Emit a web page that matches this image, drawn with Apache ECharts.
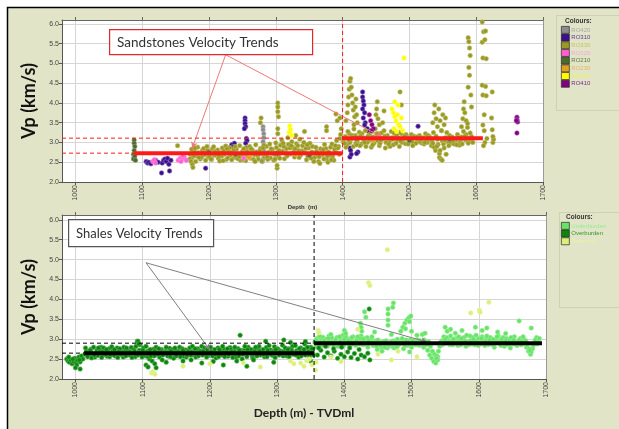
<!DOCTYPE html>
<html>
<head>
<meta charset="utf-8">
<script src="https://cdn.jsdelivr.net/npm/echarts@6/dist/echarts.min.js"></script>
<style>
  html, body { margin: 0; padding: 0; background: #ffffff; }
  #chart { width: 619px; height: 429px; }
</style>
</head>
<body>
<div id="chart"></div>
<script>
// ---- axis ticks ----
const depthTicks = [1000, 1100, 1200, 1300, 1400, 1500, 1600, 1700];
const depthMin = 980, depthMax = 1700;

// ---- sandstone log groups (depth m, Vp km/s) ----
const sandNames = ['RO420', 'RO310', 'RO330', 'RO320', 'RO210', 'RO230', 'RO110', 'RO410'];
const sandColors = ['#8c8c8c', '#3d0f8f', '#9a9a22', '#ff5fd0', '#4b6b2b', '#e0a020', '#ffff00', '#800080'];
const sandLabelColors = ['#a8a8a8', '#5a3aa0', '#c4c466', '#f3a6dc', '#5a7a3a', '#e2b664', '#eef060', '#7a2a8a'];

const ro420 = [[1281,3.40],[1281,3.32],[1282,3.22],[1282,3.12],[1281,3.02],[1283,2.92],[1282,2.80],[1281,2.70],[1282,2.60],[1280,2.52]];
const ro310 = [[1106,2.52],[1108,2.48],[1110,2.50],[1113,2.46],[1120,2.55],[1124,2.50],[1129,2.23],[1130,2.48],[1132,2.55],[1134,2.58],
  [1136,2.52],[1138,2.60],[1141,2.28],[1140,2.45],[1143,2.55],[1195,2.35],[1234,2.94],[1236,2.90],[1238,2.98],[1254,3.62],
  [1254,3.55],[1254,3.48],[1255,3.40],[1253,3.35],[1256,3.10],[1257,3.05],[1255,2.98],[1411,2.86],[1412,2.80],[1411,2.63],
  [1413,2.70],[1423,2.76],[1421,2.72],[1430,4.28],[1430,4.15],[1431,4.05],[1432,3.95],[1430,3.85],[1433,3.75],[1431,3.62],
  [1434,3.50],[1433,3.44],[1437,3.35],[1439,3.28],[1441,3.15],[1513,3.41]];
const ro330 = [
  // shallow band
  [1172,2.70],[1175,2.62],[1178,2.78],[1181,2.66],[1184,2.74],[1187,2.58],[1190,2.80],[1193,2.69],[1196,2.76],[1199,2.63],
  [1202,2.72],[1205,2.84],[1208,2.67],[1211,2.78],[1214,2.60],[1217,2.74],[1220,2.86],[1223,2.70],[1226,2.57],[1229,2.79],
  [1232,2.68],[1235,2.75],[1238,2.62],[1241,2.83],[1244,2.71],[1247,2.55],[1250,2.77],[1253,2.66],[1256,2.88],[1259,2.73],
  [1262,2.60],[1265,2.81],[1268,2.69],[1271,2.76],[1274,2.58],[1277,2.85],[1280,2.72],[1283,2.64],[1286,2.90],[1289,2.75],
  [1292,2.61],[1295,2.82],[1298,2.70],[1301,2.87],[1304,2.66],[1307,2.93],[1310,2.78],[1313,2.59],[1316,2.84],[1319,2.95],
  [1322,2.71],[1325,2.88],[1328,2.63],[1331,2.97],[1334,2.80],[1337,2.68],[1340,2.92],[1343,2.74],[1346,2.56],[1349,2.86],
  [1352,2.70],[1355,2.90],[1358,2.62],[1361,2.78],[1364,2.52],[1367,2.84],[1370,2.69],[1373,2.95],[1376,2.58],[1379,2.76],
  [1382,2.88],[1385,2.64],[1388,2.82],[1391,3.05],[1394,2.90],[1397,3.20],
  [1171,2.58],[1174,2.83],[1177,2.67],[1180,2.52],[1183,2.88],[1186,2.71],[1189,2.63],[1192,2.85],[1195,2.55],[1198,2.80],
  [1201,2.64],[1204,2.57],[1207,2.89],[1210,2.69],[1213,2.81],[1216,2.53],[1219,2.66],[1222,2.79],[1225,2.91],[1228,2.61],
  [1231,2.87],[1234,2.56],[1237,2.82],[1240,2.65],[1243,2.59],[1246,2.92],[1249,2.68],[1252,2.84],[1255,2.54],[1258,2.65],
  [1261,2.90],[1264,2.72],[1267,2.57],[1270,2.94],[1273,2.67],[1276,2.79],[1279,2.53],[1282,2.93],[1285,2.68],[1288,2.57],
  [1291,2.96],[1294,2.73],[1297,2.55],[1300,2.99],[1303,2.76],[1306,2.60],[1309,3.06],[1312,2.90],[1315,2.72],[1318,3.12],
  [1321,2.86],[1324,3.02],[1327,2.77],[1330,3.18],[1333,2.92],[1336,3.08],[1339,2.79],[1342,3.00],[1345,2.85],[1348,2.65],
  [1351,2.98],[1354,2.76],[1357,2.52],[1360,2.88],[1363,2.66],[1366,2.47],[1369,2.73],[1372,2.58],[1375,2.85],[1378,2.50],
  [1381,2.68],[1384,2.96],[1387,2.55],[1390,2.74],[1393,2.86],[1396,3.10],[1398,3.35],
  [1173,2.52],[1179,2.86],[1185,2.62],[1191,2.74],[1197,2.90],[1203,2.58],[1209,2.76],[1215,2.66],[1221,2.54],[1227,2.84],
  [1233,2.74],[1239,2.90],[1245,2.64],[1251,2.56],[1257,2.78],[1263,2.84],[1269,2.52],[1275,2.70],[1281,2.86],[1287,2.64],
  [1293,2.84],[1299,2.58],[1305,2.80],[1311,2.98],[1317,2.66],[1323,2.92],[1329,2.84],[1335,2.62],[1341,2.76],[1347,2.94],
  [1353,2.60],[1359,2.72],[1365,2.64],[1371,2.82],[1377,2.66],[1383,2.56],[1389,2.92],[1395,2.70],
  [1303,4.00],[1303,3.90],[1303,3.78],[1304,3.65],[1303,3.35],[1303,3.22],[1302,2.35],[1302,2.42],[1277,3.50],[1278,3.62],
  [1390,3.72],[1392,3.55],[1396,3.62],[1175,2.44],[1176,2.37],[1153,2.92],[1376,3.40],[1376,3.30],[1343,3.28],
  // deep band
  [1401,3.02],[1404,3.15],[1407,2.95],[1410,3.22],[1413,3.08],[1416,2.90],[1419,3.18],[1422,3.04],[1425,3.26],[1428,2.96],
  [1431,3.12],[1434,3.30],[1437,3.00],[1440,3.20],[1443,2.88],[1446,3.14],[1449,3.35],[1452,3.05],[1455,2.92],[1458,3.24],
  [1461,3.10],[1464,2.86],[1467,3.18],[1470,3.02],[1473,3.28],[1476,2.94],[1479,3.16],[1482,3.06],[1485,2.90],[1488,3.22],
  [1491,3.08],[1494,2.97],[1497,3.14],[1500,3.04],[1503,3.20],[1506,2.95],[1509,3.12],[1512,3.06],[1515,3.18],[1518,2.99],
  [1521,3.10],[1524,3.22],[1527,3.00],[1530,3.15],[1533,2.92],[1536,3.25],[1539,2.80],[1542,3.08],[1545,2.72],[1548,3.30],
  [1551,2.96],[1554,3.12],[1557,3.02],[1560,3.18],[1563,2.98],[1566,3.10],[1569,3.04],[1572,3.20],[1575,2.93],[1578,3.14],
  [1581,3.28],[1584,3.06],[1587,3.38],[1590,3.02],[1593,3.15],
  [1402,3.10],[1405,2.88],[1408,3.28],[1411,3.00],[1414,3.18],[1417,3.34],[1420,2.98],[1423,3.12],[1426,2.92],[1429,3.22],
  [1432,3.04],[1435,2.90],[1438,3.16],[1441,3.06],[1444,3.28],[1447,2.98],[1450,3.12],[1453,3.22],[1456,2.98],[1459,3.08],
  [1462,3.30],[1465,3.00],[1468,3.10],[1471,2.90],[1474,3.12],[1477,3.24],[1480,2.98],[1483,3.12],[1486,3.26],[1489,3.00],
  [1492,3.12],[1495,3.20],[1498,2.96],[1501,3.10],[1504,3.02],[1507,3.16],[1510,2.98],[1513,3.08],[1516,3.02],[1519,3.12],
  [1522,2.96],[1525,3.06],[1528,3.18],[1531,3.08],[1534,3.02],[1537,2.88],[1540,3.16],[1543,2.95],[1546,2.80],[1549,3.05],
  [1552,2.86],[1555,2.70],[1558,3.10],[1561,3.00],[1564,3.14],[1567,2.96],[1570,3.08],[1573,3.12],[1576,3.02],[1579,2.96],
  [1582,3.10],[1585,3.20],[1588,2.98],[1591,3.24],[1594,3.08],
  [1403,2.98],[1409,3.06],[1415,3.12],[1421,2.94],[1427,3.16],[1433,3.00],[1439,3.10],[1445,2.94],[1451,3.22],[1457,3.06],
  [1463,3.16],[1469,2.96],[1475,3.08],[1481,3.20],[1487,3.04],[1493,3.16],[1499,3.06],[1505,2.92],[1511,3.14],[1517,3.08],
  [1523,3.00],[1529,3.12],[1535,2.98],[1541,2.90],[1553,3.06],[1559,2.92],[1565,3.04],[1571,2.94],[1577,3.08],[1583,3.16],
  [1589,3.10],[1595,3.00],
  // excursions
  [1405,3.55],[1407,3.75],[1408,3.95],[1409,4.15],[1410,4.35],[1411,4.55],[1412,4.62],[1413,4.40],[1414,4.20],[1415,4.00],
  [1416,3.82],[1418,3.65],[1419,3.90],[1420,4.10],[1421,3.70],[1417,3.45],[1422,3.50],
  [1450,3.70],[1451,3.85],[1452,4.03],[1453,3.60],[1455,3.45],[1460,3.50],[1462,3.80],[1486,4.28],[1488,3.95],
  [1535,3.50],[1537,3.75],[1538,3.95],[1540,3.60],[1542,3.40],[1544,3.85],[1546,3.55],[1548,3.30],[1550,3.70],[1552,3.45],
  [1554,3.62],[1556,3.25],[1545,2.62],[1547,2.58],[1549,2.55],
  [1578,3.40],[1580,3.60],[1581,3.85],[1582,4.03],[1583,3.75],[1585,3.55],[1587,3.48],
  [1588,5.65],[1589,5.55],[1590,5.39],[1591,5.20],[1589,4.90],[1590,4.70],[1588,4.40],[1592,4.20],[1593,3.90],
  [1609,6.05],[1611,5.80],[1614,5.82],[1609,5.54],[1613,5.60],[1610,5.14],[1615,5.12],[1609,4.45],[1614,4.42],[1610,4.20],
  [1615,4.18],[1612,3.70],[1610,3.44],[1612,3.30],[1613,3.00],[1611,2.92],[1616,3.10],
  [1624,4.28],[1623,3.62],[1624,3.32],[1625,3.00],[1626,3.08],[1625,3.15]
];
const ro320 = [[1116,2.52],[1118,2.56],[1120,2.48],[1154,2.55],[1157,2.60],[1160,2.58],[1163,2.62],[1158,2.52],[1166,2.55],[1161,2.66],[1252,2.60]];
const ro210 = [[1088,3.06],[1088,2.98],[1089,2.90],[1088,2.80],[1087,2.70],[1088,2.62],[1087,2.58],[1089,2.66],[1090,2.55],
  [1200,2.75],[1240,2.70],[1300,2.72],[1350,2.68],[1420,3.10],[1500,3.05],[1560,3.08]];
const ro230 = [[1260,2.62],[1330,2.70],[1445,3.05]];
const ro110 = [[1321,3.42],[1322,3.32],[1320,3.25],[1324,3.18],[1474,3.85],[1476,3.75],[1478,3.65],[1480,3.55],[1482,3.70],
  [1484,3.45],[1477,3.35],[1481,3.28],[1486,3.40],[1488,3.62],[1490,3.30],[1492,5.14],[1483,3.95],[1478,4.03]];
const ro410 = [[1661,3.64],[1661,3.58],[1662,3.52],[1660,3.55],[1661,3.24],[1440,3.70],[1442,3.55],[1444,3.45],[1446,3.35],[1443,3.30]];
const sandData = [ro420, ro310, ro330, ro320, ro210, ro230, ro110, ro410];

// sandstone trend: [fromDepth, toDepth, Vp]
const sandTrend = [[1088, 1400, 2.73], [1400, 1610, 3.11]];
const sandBreak = 1400;
const sandPointer = { from: [1225, 5.22], to: [[1175, 2.86], [1459, 3.14]] };

// ---- shale log groups ----
const shaleNames = ['Underburden', 'Overburden', 'Reservoir'];
const shaleColors = ['#66e466', '#0a870a', '#dcef78'];
const shaleLabelColors = ['#90ee90', '#2a9a2a', '#e6f3a8'];

const overburden = [
  [987,2.50],[989,2.45],[991,2.42],[993,2.48],[995,2.38],[997,2.44],[999,2.52],[1001,2.40],[1003,2.47],[1005,2.55],
  [1007,2.43],[1009,2.58],[1011,2.50],[990,2.55],[996,2.50],[1002,2.35],[1006,2.48],[1000,2.28],[1007,2.25],
  [1014,2.62],[1017,2.70],[1020,2.58],[1023,2.75],[1026,2.64],[1029,2.55],[1032,2.72],[1035,2.66],[1038,2.80],[1041,2.60],
  [1044,2.69],[1047,2.57],[1050,2.76],[1053,2.65],[1056,2.71],[1059,2.58],[1062,2.78],[1065,2.63],[1068,2.70],[1071,2.55],
  [1074,2.74],[1077,2.66],[1080,2.60],[1083,2.79],[1086,2.68],[1089,2.56],[1092,2.95],[1095,2.72],[1098,2.62],[1101,2.78],
  [1104,2.58],[1107,2.70],[1110,2.50],[1113,2.66],[1116,2.75],[1119,2.60],[1122,2.68],[1125,2.55],[1128,2.74],[1131,2.63],
  [1134,2.70],[1137,2.58],[1140,2.77],[1143,2.65],[1146,2.52],[1149,2.72],[1152,2.62],[1155,2.80],[1158,2.67],[1161,2.57],
  [1164,2.73],[1167,2.64],[1170,2.78],[1173,2.60],[1176,2.70],[1179,2.55],[1182,2.76],[1185,2.66],[1188,2.82],[1191,2.62],
  [1194,2.71],[1197,2.58],[1200,2.75],[1203,2.64],[1206,2.70],[1209,2.53],[1212,2.78],[1215,2.66],[1218,2.60],[1221,2.74],
  [1224,2.68],[1227,2.57],[1230,2.79],[1233,2.63],[1236,2.70],[1239,2.55],[1242,2.76],[1245,2.66],[1248,2.50],[1251,2.72],
  [1254,2.62],[1257,2.80],[1260,2.68],[1263,2.58],[1266,2.74],[1269,2.64],[1272,2.77],[1275,2.60],[1278,2.70],[1281,2.56],
  [1284,2.79],[1287,2.66],[1290,2.73],[1293,2.59],[1296,2.81],[1299,2.67],[1302,2.74],[1305,2.62],[1308,2.85],[1311,2.70],
  [1314,2.58],[1317,2.76],[1320,2.66],[1323,2.82],[1326,2.63],[1329,2.71],[1332,2.55],[1335,2.78],[1338,2.68],[1341,2.88],
  [1344,2.62],[1347,2.74],[1350,2.80],[1353,2.66],
  [1015,2.78],[1018,2.56],[1021,2.66],[1024,2.53],[1027,2.80],[1030,2.62],[1033,2.59],[1036,2.74],[1039,2.54],[1042,2.78],
  [1045,2.62],[1048,2.70],[1051,2.56],[1054,2.81],[1057,2.60],[1060,2.68],[1063,2.54],[1066,2.76],[1069,2.61],[1072,2.80],
  [1075,2.58],[1078,2.72],[1081,2.68],[1084,2.54],[1087,2.74],[1090,2.82],[1093,2.60],[1096,2.86],[1099,2.55],[1102,2.68],
  [1105,2.82],[1108,2.56],[1111,2.74],[1114,2.45],[1117,2.58],[1120,2.80],[1123,2.62],[1126,2.72],[1129,2.48],[1132,2.66],
  [1135,2.80],[1138,2.68],[1141,2.56],[1144,2.74],[1147,2.64],[1150,2.58],[1153,2.70],[1156,2.56],[1159,2.76],[1162,2.68],
  [1165,2.55],[1168,2.70],[1171,2.60],[1174,2.82],[1177,2.64],[1180,2.74],[1183,2.58],[1186,2.70],[1189,2.60],[1192,2.78],
  [1195,2.55],[1198,2.66],[1201,2.80],[1204,2.58],[1207,2.74],[1210,2.64],[1213,2.56],[1216,2.72],[1219,2.82],[1222,2.56],
  [1225,2.70],[1228,2.62],[1231,2.74],[1234,2.54],[1237,2.80],[1240,2.64],[1243,2.58],[1246,2.72],[1249,2.62],[1252,2.82],
  [1255,2.56],[1258,2.66],[1261,2.74],[1264,2.52],[1267,2.70],[1270,2.58],[1273,2.82],[1276,2.68],[1279,2.74],[1282,2.64],
  [1285,2.56],[1288,2.84],[1291,2.62],[1294,2.70],[1297,2.54],[1300,2.76],[1303,2.60],[1306,2.70],[1309,2.58],[1312,2.78],
  [1315,2.68],[1318,2.56],[1321,2.74],[1324,2.62],[1327,2.84],[1330,2.66],[1333,2.76],[1336,2.58],[1339,2.72],[1342,2.60],
  [1345,2.80],[1348,2.56],[1351,2.70],[1354,2.60],
  [1016,2.68],[1022,2.72],[1028,2.60],[1034,2.78],[1040,2.68],[1046,2.74],[1052,2.62],[1058,2.74],[1064,2.68],[1070,2.64],
  [1076,2.78],[1082,2.64],[1088,2.70],[1094,2.66],[1100,2.72],[1106,2.64],[1112,2.58],[1118,2.70],[1124,2.76],[1130,2.60],
  [1136,2.66],[1142,2.70],[1148,2.78],[1154,2.66],[1160,2.72],[1166,2.60],[1172,2.68],[1178,2.76],[1184,2.64],[1190,2.70],
  [1196,2.74],[1202,2.68],[1208,2.62],[1214,2.74],[1220,2.66],[1226,2.76],[1232,2.68],[1238,2.62],[1244,2.72],[1250,2.66],
  [1256,2.74],[1262,2.64],[1268,2.80],[1274,2.70],[1280,2.62],[1286,2.72],[1292,2.66],[1298,2.74],[1304,2.68],[1310,2.64],
  [1316,2.74],[1322,2.70],[1328,2.60],[1334,2.68],[1340,2.74],[1346,2.68],[1352,2.76],
  [1093,2.95],[1094,2.88],[1105,2.35],[1108,2.30],[1118,2.38],[1120,2.28],[1135,2.42],[1160,2.45],[1172,2.48],[1188,2.40],
  [1205,2.44],[1220,2.35],[1245,3.10],[1240,2.45],[1255,2.32],[1265,2.48],[1283,2.95],[1295,2.42],[1310,2.98],[1320,2.92],
  [1342,2.94],[1350,2.45],
  [1360,2.60],[1365,2.72],[1370,2.55],[1375,2.66],[1380,2.58],[1385,2.70],[1390,2.52],[1395,2.62],[1400,2.56],[1405,2.68],
  [1410,2.54],[1415,2.64],[1420,2.50],[1425,2.60],[1430,2.56],[1435,2.65],[1362,2.78],[1372,2.82],[1384,2.76],[1396,2.80],
  [1408,2.78],[1422,2.74],[1437,3.76],[1438,2.48]
];
const underburden = [
  [1356,2.92],[1359,3.02],[1362,2.86],[1365,2.98],[1368,3.05],[1371,2.90],[1374,2.96],[1377,3.08],[1380,2.88],[1383,3.00],
  [1386,2.94],[1389,3.04],[1392,2.86],[1395,2.98],[1398,3.10],[1401,2.92],[1404,3.02],[1407,2.88],[1410,2.96],[1413,3.06],
  [1416,2.90],[1419,3.00],[1422,2.94],[1425,3.08],[1428,2.86],[1431,2.98],[1434,3.04],[1437,2.90],[1440,3.00],[1443,2.84],
  [1446,2.96],[1449,2.74],[1452,2.90],[1455,2.80],[1458,2.94],[1461,2.86],[1464,2.78],[1467,2.92],[1470,2.82],[1473,2.96],
  [1476,2.86],[1479,3.00],[1482,2.88],[1485,2.96],[1488,2.76],[1491,2.92],[1494,2.84],[1497,2.68],[1500,2.80],[1503,2.92],
  [1506,2.86],[1509,2.98],[1512,2.84],[1515,2.94],[1518,2.80],[1521,2.90],[1524,2.72],[1527,2.60],[1530,2.52],[1533,2.44],
  [1536,2.40],[1539,2.56],[1542,2.82],[1545,2.96],[1548,3.06],[1551,2.90],[1554,3.00],[1557,2.86],[1560,2.94],[1563,2.88],
  [1566,3.02],[1569,2.84],[1572,2.96],[1575,2.90],[1578,3.04],[1581,2.82],[1584,2.94],[1587,3.08],[1590,2.88],[1593,2.98],
  [1596,3.10],[1599,2.84],[1602,2.96],[1605,3.06],[1608,2.90],[1611,3.00],[1614,2.86],[1617,3.04],[1620,2.92],[1623,2.80],
  [1626,2.98],[1629,3.08],[1632,2.88],[1635,2.96],[1638,2.82],[1641,3.02],[1644,2.90],[1647,2.78],[1650,2.96],[1653,3.06],
  [1656,2.86],[1659,2.94],[1662,3.02],[1665,2.88],[1668,2.98],[1671,2.80],[1674,2.70],[1677,2.62],[1680,2.76],[1683,2.92],
  [1686,3.04],[1689,2.96],
  [1357,2.80],[1360,2.94],[1363,3.08],[1366,2.84],[1369,2.92],[1372,3.00],[1375,2.82],[1378,2.94],[1381,3.04],[1384,2.86],
  [1387,2.98],[1390,2.82],[1393,3.06],[1396,2.90],[1399,2.84],[1402,3.08],[1405,2.94],[1408,2.82],[1411,3.04],[1414,2.92],
  [1417,2.84],[1420,3.06],[1423,2.88],[1426,2.96],[1429,3.02],[1432,2.88],[1435,2.80],[1438,2.96],[1441,3.06],[1444,2.92],
  [1447,2.86],[1450,2.98],[1453,2.84],[1456,2.70],[1459,2.88],[1462,2.96],[1465,2.90],[1468,2.84],[1471,2.94],[1474,2.78],
  [1477,2.92],[1480,2.84],[1483,2.92],[1486,3.02],[1489,2.88],[1492,2.98],[1495,2.88],[1498,2.98],[1501,2.88],[1504,2.96],
  [1507,2.92],[1510,2.86],[1513,2.96],[1516,2.88],[1519,2.98],[1522,2.86],[1525,2.94],[1528,2.82],[1531,2.70],[1534,2.62],
  [1537,2.58],[1540,2.70],[1543,2.92],[1546,2.86],[1549,2.96],[1552,3.04],[1555,2.94],[1558,3.08],[1561,2.86],[1564,2.98],
  [1567,2.92],[1570,3.06],[1573,2.86],[1576,2.98],[1579,2.90],[1582,3.10],[1585,2.86],[1588,2.96],[1591,3.04],[1594,2.86],
  [1597,2.96],[1600,3.02],[1603,2.88],[1606,2.98],[1609,2.84],[1612,3.08],[1615,2.94],[1618,2.88],[1621,3.00],[1624,2.90],
  [1627,3.06],[1630,2.94],[1633,2.84],[1636,3.04],[1639,2.92],[1642,2.86],[1645,2.98],[1648,3.04],[1651,2.88],[1654,2.94],
  [1657,2.84],[1660,2.98],[1663,2.86],[1666,3.06],[1669,2.90],[1672,2.86],[1675,2.76],[1678,2.68],[1681,2.84],[1684,2.98],
  [1687,2.88],[1690,3.02],
  [1358,2.98],[1364,2.92],[1370,2.96],[1376,3.02],[1382,2.92],[1388,2.90],[1394,2.94],[1400,3.00],[1406,2.96],[1412,2.88],
  [1418,2.96],[1424,3.02],[1430,2.92],[1436,2.96],[1442,2.90],[1448,2.82],[1454,2.92],[1460,2.80],[1466,2.86],[1472,2.90],
  [1478,2.80],[1484,2.90],[1490,2.84],[1496,2.92],[1502,2.96],[1508,2.90],[1514,2.90],[1520,2.94],[1526,2.88],[1544,2.88],
  [1550,3.00],[1556,2.90],[1562,3.00],[1568,2.88],[1574,3.02],[1580,2.94],[1586,2.90],[1592,3.00],[1598,2.90],[1604,3.02],
  [1610,2.94],[1616,2.98],[1622,2.86],[1628,2.92],[1634,3.00],[1640,2.96],[1646,2.88],[1652,2.98],[1658,2.90],[1664,2.94],
  [1670,2.96],[1676,2.72],[1682,2.88],[1688,2.92],
  [1430,3.69],[1432,3.55],[1425,3.30],[1426,3.20],[1424,3.40],[1465,3.76],[1465,3.63],[1465,3.48],[1465,3.35],[1473,3.91],
  [1472,3.80],[1484,3.20],[1487,3.30],[1490,3.40],[1493,3.48],[1496,3.54],[1499,3.58],[1497,3.44],[1491,3.26],[1428,3.00],
  [1508,3.10],[1516,3.12],[1520,3.15],[1550,3.30],[1553,3.20],[1558,3.25],[1565,3.15],[1575,3.22],[1595,3.30],[1605,3.22],
  [1612,3.28],[1628,3.18],[1660,3.46],[1678,3.28],[1640,3.14],[1400,3.22],[1402,3.15],[1380,3.12],[1445,3.18],[1470,3.12],
  [1500,3.20],[1539,2.48],[1537,2.52]
];
const reservoir = [[1113,2.15],[1115,2.18],[1118,2.12],[1160,2.32],[1200,2.38],[1250,2.40],[1275,2.30],[1320,2.45],[1325,2.38],
  [1335,2.40],[1340,2.32],[1344,2.46],[1348,2.50],[1352,2.36],[1357,2.22],[1358,2.42],[1361,3.22],[1362,3.16],[1380,2.55],
  [1395,2.44],[1420,3.25],[1436,4.42],[1438,4.35],[1464,5.25],[1470,2.48],[1480,2.70],[1588,3.66],[1601,3.73],[1602,3.68],
  [1615,3.93],[1450,2.62],[1508,2.56]];
const shaleData = [underburden, overburden, reservoir];

const shaleTrend = [[1013, 1355, 2.65], [1355, 1694, 2.90]];
const shaleBreak = 1355;
const shalePointer = { from: [1105, 4.92], to: [[1200, 2.73], [1523, 2.93]] };

// ---- styling helpers ----
const smallFont = 'Liberation Sans';
const headFont = 'Lato';

function depthAxis(gi, name, nameGap, nameStyle) {
  return {
    type: 'value', gridIndex: gi, min: depthMin, max: depthMax, position: 'bottom',
    axisLine: { show: true, onZero: false, lineStyle: { color: '#555', width: 1 } },
    axisTick: { show: true, customValues: depthTicks, length: 3, lineStyle: { color: '#555' } },
    axisLabel: { customValues: depthTicks, rotate: 90, fontSize: 7, color: '#444', margin: 3, fontFamily: smallFont,
                 formatter: v => String(v) },
    splitLine: { show: true, lineStyle: { color: '#d6d6d6', width: 1 } },
    name: name, nameLocation: 'middle', nameGap: nameGap, nameTextStyle: nameStyle
  };
}
function depthTopAxis(gi) {
  return {
    type: 'value', gridIndex: gi, min: depthMin, max: depthMax, position: 'top',
    axisLine: { show: true, onZero: false, lineStyle: { color: '#666', width: 1 } },
    axisTick: { show: true, customValues: depthTicks, length: 3, lineStyle: { color: '#666' } },
    axisLabel: { show: false }, splitLine: { show: false }
  };
}
function vpAxis(gi, max) {
  return {
    type: 'value', gridIndex: gi, min: 2, max: max, interval: 0.5, position: 'left',
    axisLine: { show: true, onZero: false, lineStyle: { color: '#555', width: 1 } },
    axisTick: { show: true, length: 3, lineStyle: { color: '#555' } },
    axisLabel: { fontSize: 7, color: '#444', margin: 3, fontFamily: smallFont, showMaxLabel: false,
                 formatter: v => v.toFixed(1) },
    splitLine: { show: true, lineStyle: { color: '#d6d6d6', width: 1 } },
    name: 'Vp (km/s)', nameLocation: 'middle', nameGap: 23,
    nameTextStyle: { fontSize: 18, fontWeight: 'bold', color: '#111', fontFamily: headFont }
  };
}
function vpRightAxis(gi, max) {
  return {
    type: 'value', gridIndex: gi, min: 2, max: max, position: 'right',
    axisLine: { show: true, onZero: false, lineStyle: { color: '#999', width: 1 } },
    axisTick: { show: false }, axisLabel: { show: false }, splitLine: { show: false }
  };
}

function scatterSeries(name, data, color, axis) {
  return {
    type: 'scatter', name: name, data: data, xAxisIndex: axis, yAxisIndex: axis,
    symbol: 'circle', symbolSize: 4.5, z: 3,
    itemStyle: { color: color, borderColor: echarts.color.lift(color, 0.35), borderWidth: 0.6, opacity: 1 },
    emphasis: { disabled: true }
  };
}

// straight segment between two data points
function segment(axis, a, b, style, z) {
  return {
    type: 'line', data: [a, b], xAxisIndex: axis, yAxisIndex: axis, silent: true, z: z,
    symbol: 'none', lineStyle: style, itemStyle: { color: style.color }, emphasis: { disabled: true }
  };
}
// leader lines ending in arrow heads
function leaderLayer(axis, pointer, color) {
  return {
    type: 'line', data: [], xAxisIndex: axis, yAxisIndex: axis, silent: true, z: 7,
    markLine: {
      silent: true, animation: false,
      symbol: ['none', 'arrow'], symbolSize: [5, 6],
      label: { show: false },
      lineStyle: { color: color, width: 1, type: 'solid' },
      emphasis: { disabled: true },
      data: pointer.to.map(p => [{ coord: pointer.from }, { coord: p }])
    }
  };
}
function trendLayers(axis, trend, brk, color, vpMax, pointer, leaderColor) {
  const out = [];
  const dash = { color: color, width: 1, type: [4, 3] };
  trend.forEach(t => out.push(segment(axis, [depthMin, t[2]], [t[0], t[2]], dash, 5)));
  out.push(segment(axis, [brk, 2], [brk, vpMax], dash, 5));
  trend.forEach(t => out.push(segment(axis, [t[0], t[2]], [t[1], t[2]], { color: color, width: 4, type: 'solid' }, 6)));
  out.push(leaderLayer(axis, pointer, leaderColor));
  return out;
}

const chart = echarts.init(document.getElementById('chart'), null, { renderer: 'canvas' });

let series = [];
sandNames.forEach((n, i) => series.push(scatterSeries(n, sandData[i], sandColors[i], 0)));
shaleNames.forEach((n, i) => series.push(scatterSeries(n, shaleData[i], shaleColors[i], 1)));
series = series.concat(trendLayers(0, sandTrend, sandBreak, '#ff1a1a', 6.1, sandPointer, '#f07878'));
series = series.concat(trendLayers(1, shaleTrend, shaleBreak, '#000000', 6.12, shalePointer, '#808080'));

function legendFor(names, labelColors, top) {
  return {
    data: names.map((n, i) => ({ name: n, textStyle: { color: labelColors[i] } })),
    orient: 'vertical', left: 561, top: top, padding: 0,
    itemWidth: 8, itemHeight: 7, itemGap: 0, icon: 'rect', selectedMode: false,
    itemStyle: { borderColor: '#2a2a2a', borderWidth: 0.7 },
    textStyle: { fontSize: 6, lineHeight: 7, fontFamily: smallFont, padding: [0, 0, 0, -3] }
  };
}

function noteBox(left, top, w, h, text, stroke, fontSize) {
  return { type: 'group', left: left, top: top, children: [
    { type: 'rect', z: 20, shape: { x: 0.5, y: 0.5, width: w, height: h },
      style: { fill: '#ffffff', stroke: stroke, lineWidth: 1.2 } },
    { type: 'text', z: 21, x: 8, y: h / 2 + 1,
      style: { text: text, font: fontSize + 'px Lato', fill: '#333', verticalAlign: 'middle' } }
  ] };
}

chart.setOption({
  animation: false,
  backgroundColor: 'transparent',
  grid: [
    { left: 62, top: 20, width: 481, height: 162, show: true, backgroundColor: '#ffffff', borderWidth: 0 },
    { left: 62, top: 215, width: 484, height: 164, show: true, backgroundColor: '#ffffff', borderWidth: 0 }
  ],
  xAxis: [
    depthAxis(0, 'Depth  (m)', 21, { fontSize: 6, fontWeight: 'bold', color: '#333', fontFamily: smallFont }),
    depthAxis(1, 'Depth (m) - TVDml', 28, { fontSize: 12, fontWeight: 'bold', color: '#222', fontFamily: headFont }),
    depthTopAxis(0),
    depthTopAxis(1)
  ],
  yAxis: [vpAxis(0, 6.1), vpAxis(1, 6.12), vpRightAxis(0, 6.1), vpRightAxis(1, 6.12)],
  legend: [legendFor(sandNames, sandLabelColors, 26), legendFor(shaleNames, shaleLabelColors, 222)],
  series: series,
  graphic: [
    { type: 'rect', z: -10, silent: true, shape: { x: 7.5, y: 7.5, width: 630, height: 440 },
      style: { fill: '#e2e4c7', stroke: '#000', lineWidth: 1.5 } },
    { type: 'rect', z: -5, silent: true, shape: { x: 556.5, y: 15.5, width: 80, height: 95 },
      style: { fill: 'none', stroke: '#cfd1b4', lineWidth: 1 } },
    { type: 'rect', z: -5, silent: true, shape: { x: 559.5, y: 212.5, width: 80, height: 95 },
      style: { fill: 'none', stroke: '#cfd1b4', lineWidth: 1 } },
    { type: 'text', z: 20, left: 565, top: 18,
      style: { text: 'Colours:', font: 'bold 6.5px "Liberation Sans"', fill: '#333' } },
    { type: 'text', z: 20, left: 566, top: 214,
      style: { text: 'Colours:', font: 'bold 6.5px "Liberation Sans"', fill: '#333' } },
    noteBox(109, 29, 203, 25, 'Sandstones Velocity Trends', '#e0282f', 13.5),
    noteBox(68, 219, 145, 27, 'Shales Velocity Trends', '#555555', 13)
  ]
});
</script>
</body>
</html>
